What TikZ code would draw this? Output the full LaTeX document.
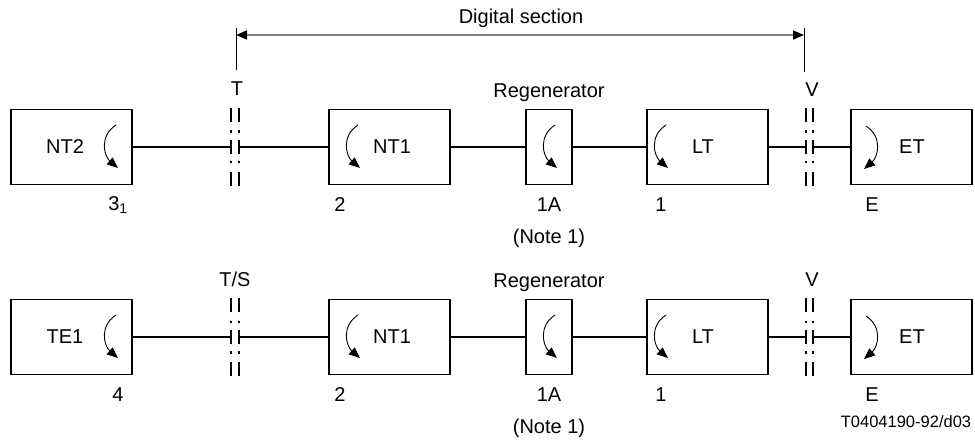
\documentclass[tikz,border=0pt]{standalone}
\usepackage{fontspec}
\setmainfont{Liberation Sans}
\usetikzlibrary{arrows.meta}
\begin{document}
\begin{tikzpicture}[x=1pt,y=-1pt,
 box/.style={draw,line width=1.1pt,minimum height=75pt,inner sep=0pt},
 wire/.style={line width=1.9pt},
 bar/.style={line width=1.3pt},
 thin/.style={line width=1pt},
 lbl/.style={font=\fontsize{20}{24}\selectfont,inner sep=0pt},
 small/.style={font=\fontsize{16.5}{20}\selectfont,inner sep=0pt},
 cur/.style={line width=0.9pt,-{Triangle[length=11pt,width=9pt]}},
 dim/.style={line width=1.6pt,draw=black!50,{Triangle[length=11pt,width=9pt,color=black]}-{Triangle[length=11pt,width=9pt,color=black]}},
 pics/larr/.style={code={\draw[cur] (0,0) .. controls (-17,11) and (-12,31) .. (2,43);}},
 pics/rarr/.style={code={\draw[cur] (0,0) .. controls (17,11) and (12,31) .. (-2,43);}},
]
\useasboundingbox (0,0) rectangle (975,441);

% ---------- top dimension ----------
\coordinate (dT1) at (236,28);
\coordinate (dT2) at (236,70);
\coordinate (dV1) at (804,28);
\coordinate (dV2) at (804,72);
\coordinate (aT) at (236,35);
\coordinate (aV) at (804,35);
\draw[thin] (dT1) -- (dT2);
\draw[thin] (dV1) -- (dV2);
\draw[dim] (aT) -- (aV);
\node[lbl] (dig) at (521,18) {Digital section};

% ---------- row 1 ----------
\node[box,minimum width=121pt] (nt2) at (71.5,147) {};
\node[box,minimum width=121pt] (nt1a) at (389.5,147) {};
\node[box,minimum width=46pt] (rega) at (549,147) {};
\node[box,minimum width=121pt] (lta) at (707.5,147) {};
\node[box,minimum width=121pt] (eta) at (911.5,147) {};

\node[lbl] (tnt2) at (65,147) {NT2};
\node[lbl] (tnt1a) at (392,147) {NT1};
\node[lbl] (tlta) at (703,147) {LT};
\node[lbl] (teta) at (912,147) {ET};

\pic at (116,125) {larr};
\pic at (358,125) {larr};
\pic at (555,125) {larr};
\pic at (666,125) {larr};
\pic at (866,126) {rarr};

\coordinate (Ta) at (231,147);
\coordinate (Tb) at (239,147);
\coordinate (Va) at (806,147);
\coordinate (Vb) at (813,147);
\draw[wire] (nt2.east) -- (Ta);
\draw[wire] (Tb) -- (nt1a.west);
\draw[wire] (nt1a.east) -- (rega.west);
\draw[wire] (rega.east) -- (lta.west);
\draw[wire] (lta.east) -- (Va);
\draw[wire] (Vb) -- (eta.west);

\foreach \x in {231,239,806,813}
  \foreach \a/\b in {108/122,130.5/133,140/154,161/163.5,172/186}
    \draw[bar] (\x,\a) -- (\x,\b);

\node[lbl] (lT) at (237,89) {T};
\node[lbl] (lVa) at (812,90) {V};
\node[lbl] (lRa) at (549,93) {Regenerator};
\node[lbl] (n31) at (118,205) {3\textsubscript{1}};
\node[lbl] (n2a) at (340,205) {2};
\node[lbl] (n1Aa) at (549,205) {1A};
\node[lbl] (n1a) at (661,205) {1};
\node[lbl] (nEa) at (872,205) {E};
\node[lbl] (noa) at (549,238) {(Note 1)};

% ---------- row 2 ----------
\node[box,minimum width=121pt] (te1) at (71.5,337) {};
\node[box,minimum width=121pt] (nt1b) at (389.5,337) {};
\node[box,minimum width=46pt] (regb) at (549,337) {};
\node[box,minimum width=121pt] (ltb) at (707.5,337) {};
\node[box,minimum width=121pt] (etb) at (911.5,337) {};

\node[lbl] (tte1) at (65,337) {TE1};
\node[lbl] (tnt1b) at (392,337) {NT1};
\node[lbl] (tltb) at (703,337) {LT};
\node[lbl] (tetb) at (912,337) {ET};

\pic at (116,315) {larr};
\pic at (358,315) {larr};
\pic at (555,315) {larr};
\pic at (666,315) {larr};
\pic at (866,316) {rarr};

\coordinate (Sa) at (231,337);
\coordinate (Sb) at (239,337);
\coordinate (Wa) at (806,337);
\coordinate (Wb) at (813,337);
\draw[wire] (te1.east) -- (Sa);
\draw[wire] (Sb) -- (nt1b.west);
\draw[wire] (nt1b.east) -- (regb.west);
\draw[wire] (regb.east) -- (ltb.west);
\draw[wire] (ltb.east) -- (Wa);
\draw[wire] (Wb) -- (etb.west);

\foreach \x in {231,239,806,813}
  \foreach \a/\b in {298/312,320.5/323,330/344,351/353.5,362/376}
    \draw[bar] (\x,\a) -- (\x,\b);

\node[lbl] (lTS) at (235,279) {T/S};
\node[lbl] (lVb) at (812,280) {V};
\node[lbl] (lRb) at (549,283) {Regenerator};
\node[lbl] (n4) at (118,395) {4};
\node[lbl] (n2b) at (340,395) {2};
\node[lbl] (n1Ab) at (549,395) {1A};
\node[lbl] (n1b) at (661,395) {1};
\node[lbl] (nEb) at (872,395) {E};
\node[lbl] (nob) at (549,428) {(Note 1)};

\node[small] (code) at (906,422) {T0404190-92/d03};
\end{tikzpicture}
\end{document}
